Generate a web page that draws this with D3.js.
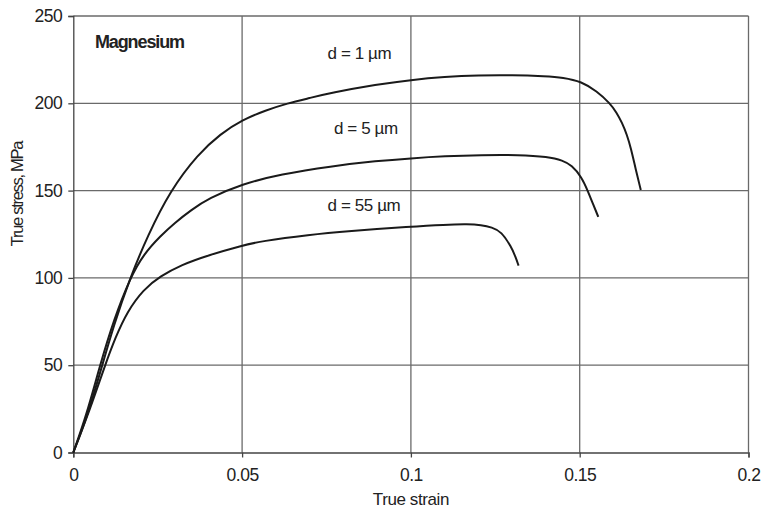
<!DOCTYPE html>
<html>
<head>
<meta charset="utf-8">
<script src="https://cdn.jsdelivr.net/npm/d3@7"></script>
<style>
  body { margin: 0; background: #fff; }
  text { font-family: "Liberation Sans", Arial, sans-serif; fill: #222; }
</style>
</head>
<body>
<div id="chart"></div>
<script>
const width = 765;
const height = 512;

// strain / stress readings for each grain size
const strain1 = [0, 0.004, 0.008, 0.012, 0.0168, 0.022, 0.0287, 0.037, 0.0436, 0.05, 0.057, 0.0634, 0.07, 0.0763, 0.09, 0.1, 0.11, 0.12, 0.13, 0.14, 0.145, 0.1506, 0.155, 0.159, 0.161, 0.1625, 0.164, 0.1652, 0.1665, 0.1681];
const stress1 = [0, 20, 46, 73, 100, 124, 150, 171, 182.5, 190.4, 196, 200, 203, 206, 210.8, 213.4, 215.2, 216.1, 216.2, 215.5, 214.8, 212.4, 207, 200, 194.5, 189, 182, 174, 163, 150.3];

const strain5 = [0, 0.004, 0.0079, 0.012, 0.0168, 0.021, 0.0258, 0.03, 0.035, 0.04, 0.05, 0.0614, 0.0763, 0.09, 0.1, 0.11, 0.1208, 0.132, 0.1406, 0.145, 0.1476, 0.1505, 0.1525, 0.154, 0.1555];
const stress5 = [0, 22, 50, 76, 100, 114, 124, 131.5, 139, 145.5, 153.8, 159.3, 164, 167, 168.5, 169.7, 170.4, 170.5, 169.4, 167.3, 164.5, 158, 149.4, 142, 135];

const strain55 = [0, 0.005, 0.0094, 0.0125, 0.0159, 0.0208, 0.0258, 0.032, 0.04, 0.05, 0.0555, 0.07, 0.0812, 0.1, 0.11, 0.117, 0.1208, 0.124, 0.1268, 0.1297, 0.131, 0.1319];
const stress55 = [0, 25, 50, 66, 80.5, 93.5, 101, 107.5, 113, 118.5, 121, 124.7, 126.7, 129.4, 130.5, 130.8, 130.3, 129, 126.5, 117.9, 112, 107];

const seriesNames = ['d = 1 \u00b5m', 'd = 5 \u00b5m', 'd = 55 \u00b5m'];
// where each label sits, in data units (strain, stress)
const labelStrain = [0.0753, 0.0772, 0.0753];
const labelStress = [225.2, 182.4, 138.3];

const xTicks = [0, 0.05, 0.1, 0.15, 0.2];
const yTicks = [0, 50, 100, 150, 200, 250];

const series = [
  strain1.map((s, i) => [s, stress1[i]]),
  strain5.map((s, i) => [s, stress5[i]]),
  strain55.map((s, i) => [s, stress55[i]])
];

// Scales
const x = d3.scaleLinear().domain([0, 0.2]).range([73.3, 748.5]);
const y = d3.scaleLinear().domain([0, 250]).range([452.5, 16]);

const svg = d3.select('#chart')
  .append('svg')
  .attr('width', width)
  .attr('height', height);

// grid
svg.append('g')
  .selectAll('line')
  .data(yTicks.slice(1))
  .enter()
  .append('line')
  .attr('x1', x(0)).attr('x2', x(0.2))
  .attr('y1', d => y(d)).attr('y2', d => y(d))
  .attr('stroke', '#6a6a6a')
  .attr('stroke-width', 1.3);

svg.append('g')
  .selectAll('line')
  .data(xTicks.slice(1))
  .enter()
  .append('line')
  .attr('x1', d => x(d)).attr('x2', d => x(d))
  .attr('y1', y(0)).attr('y2', y(250))
  .attr('stroke', '#6a6a6a')
  .attr('stroke-width', 1.3);

// axes
const xAxis = svg.append('g')
  .attr('transform', 'translate(0,' + y(0) + ')')
  .call(d3.axisBottom(x).tickValues(xTicks).tickSizeOuter(0).tickSize(5).tickPadding(11)
    .tickFormat(d => d3.format('')(+d.toFixed(2))));

const yAxis = svg.append('g')
  .attr('transform', 'translate(' + x(0) + ',0)')
  .call(d3.axisLeft(y).tickValues(yTicks).tickSizeOuter(0).tickSize(5).tickPadding(6));

[xAxis, yAxis].forEach(a => {
  a.select('.domain').attr('stroke', '#444').attr('stroke-width', 1.3);
  a.selectAll('.tick line').attr('stroke', '#444').attr('stroke-width', 1.3);
  a.selectAll('.tick text')
    .attr('font-size', '17.5px')
    .attr('letter-spacing', '-0.5px')
    .attr('fill', '#222')
    .style('font-family', '"Liberation Sans", Arial, sans-serif');
});

// curves
const line = d3.line()
  .x(d => x(d[0]))
  .y(d => y(d[1]))
  .curve(d3.curveBasis);

svg.append('g')
  .selectAll('path')
  .data(series)
  .enter()
  .append('path')
  .attr('d', line)
  .attr('fill', 'none')
  .attr('stroke', '#1a1a1a')
  .attr('stroke-width', 2);

// curve labels
svg.append('g')
  .selectAll('text')
  .data(seriesNames)
  .enter()
  .append('text')
  .text(d => d)
  .attr('x', (d, i) => x(labelStrain[i]))
  .attr('y', (d, i) => y(labelStress[i]))
  .attr('font-size', '17px')
  .attr('letter-spacing', '-0.4px');

svg.append('text')
  .text('Magnesium')
  .attr('x', x(0.0064))
  .attr('y', y(231.5))
  .attr('font-size', '18px')
  .attr('font-weight', 'bold')
  .attr('letter-spacing', '-1.1px');

// axis titles
svg.append('text')
  .text('True strain')
  .attr('x', x(0.1))
  .attr('y', 505)
  .attr('text-anchor', 'middle')
  .attr('font-size', '17px')
  .attr('letter-spacing', '-0.4px');

svg.append('text')
  .text('True stress, MPa')
  .attr('transform', 'translate(23,' + y(148) + ') rotate(-90)')
  .attr('text-anchor', 'middle')
  .attr('font-size', '16.5px')
  .attr('letter-spacing', '-1.3px');
</script>
</body>
</html>
